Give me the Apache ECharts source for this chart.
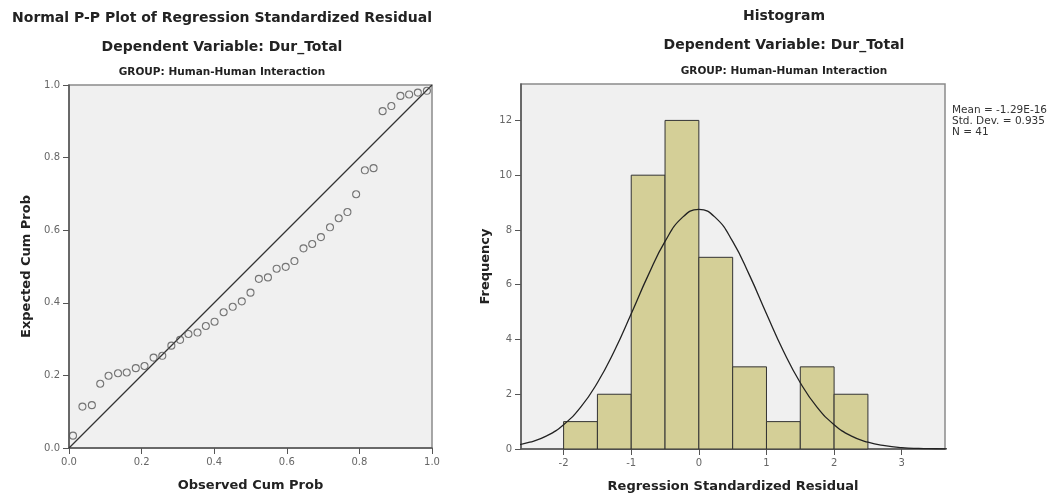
<!DOCTYPE html>
<html>
<head>
<meta charset="utf-8">
<script src="https://cdn.jsdelivr.net/npm/echarts@6/dist/echarts.min.js"></script>
<style>
  html, body { margin: 0; padding: 0; background: #ffffff; }
  #main { width: 1056px; height: 498px; }
</style>
</head>
<body>
<div id="main"></div>
<script>
// P-P plot: observed vs expected cumulative probability
var ppObs = [0.011, 0.037, 0.063, 0.086, 0.109, 0.135, 0.159, 0.184, 0.208, 0.233, 0.257,
  0.282, 0.306, 0.329, 0.354, 0.377, 0.401, 0.426, 0.451, 0.476, 0.500, 0.523, 0.548,
  0.572, 0.597, 0.621, 0.646, 0.670, 0.694, 0.719, 0.743, 0.767, 0.791, 0.815, 0.839,
  0.864, 0.888, 0.913, 0.937, 0.961, 0.986]
var ppExp = [0.034, 0.114, 0.118, 0.177, 0.199, 0.206, 0.208, 0.220, 0.226, 0.249, 0.254,
  0.282, 0.298, 0.314, 0.318, 0.336, 0.348, 0.374, 0.389, 0.404, 0.428, 0.466, 0.470,
  0.494, 0.499, 0.515, 0.550, 0.562, 0.581, 0.608, 0.633, 0.650, 0.699, 0.765, 0.771,
  0.928, 0.942, 0.970, 0.974, 0.979, 0.984]
var diagLine = [[0, 0], [1, 1]]

// histogram bins (width 0.5) and counts
var binStart = [-2, -1.5, -1, -0.5, 0, 0.5, 1, 1.5, 2]
var binEnd = [-1.5, -1, -0.5, 0, 0.5, 1, 1.5, 2, 2.5]
var binCount = [1, 2, 10, 12, 7, 3, 1, 3, 2]
var histXTicks = [-2, -1, 0, 1, 2, 3]
var histYTicks = [0, 2, 4, 6, 8, 10, 12]

// normal curve
var curveX = [-2.75, -2.5, -2.25, -2, -1.75, -1.5, -1.25, -1, -0.75, -0.5, -0.25, 0,
  0.25, 0.5, 0.75, 1, 1.25, 1.5, 1.75, 2, 2.25, 2.5, 2.75, 3, 3.25, 3.5, 3.75]
var curveY = [0.12, 0.25, 0.48, 0.89, 1.52, 2.42, 3.58, 4.94, 6.34, 7.58, 8.44, 8.75,
  8.44, 7.58, 6.34, 4.94, 3.58, 2.42, 1.52, 0.89, 0.48, 0.25, 0.12, 0.05, 0.02, 0.01, 0.0]

var statsLines = ['Mean = -1.29E-16', 'Std. Dev. = 0.935', 'N = 41']

var FONT = 'DejaVu Sans'
var axisColor = '#555555'

var ppData = ppObs.map(function (v, i) { return [v, ppExp[i]] })
var histData = binStart.map(function (v, i) { return [v, binEnd[i], binCount[i]] })
var curveData = curveX.map(function (v, i) { return [v, curveY[i]] })

function titleText(x, y, text, size) {
  return {
    type: 'text', x: x, y: y,
    style: { text: text, fill: '#222', font: 'bold ' + size + 'px "' + FONT + '"', align: 'center', verticalAlign: 'middle' }
  }
}

var baseAxis = {
  axisLine: { show: true, onZero: false, lineStyle: { color: axisColor, width: 1.5 } },
  axisTick: { show: true, length: 6, lineStyle: { color: axisColor } },
  axisLabel: { color: '#666', fontSize: 10, fontFamily: FONT, margin: 9 },
  splitLine: { show: false },
  nameLocation: 'middle',
  nameTextStyle: { color: '#222', fontSize: 13, fontWeight: 'bold', fontFamily: FONT }
}

var option = {
  animation: false,
  backgroundColor: '#ffffff',
  grid: [
    { left: 69, top: 85, width: 363, height: 363, show: true, backgroundColor: '#f0f0f0', borderColor: '#8a8a8a', borderWidth: 1.5 },
    { left: 521, top: 84, width: 424, height: 367, show: true, backgroundColor: '#f0f0f0', borderColor: '#8a8a8a', borderWidth: 1.5 }
  ],
  xAxis: [
    Object.assign({}, baseAxis, {
      gridIndex: 0, type: 'value', min: 0, max: 1, interval: 0.2,
      name: 'Observed Cum Prob', nameGap: 31,
      axisLabel: Object.assign({}, baseAxis.axisLabel, { formatter: function (v) { return v.toFixed(1) } })
    }),
    Object.assign({}, baseAxis, {
      gridIndex: 1, type: 'value', min: -2.63, max: 3.64,
      name: 'Regression Standardized Residual', nameGap: 31,
      axisTick: Object.assign({}, baseAxis.axisTick, { customValues: histXTicks }),
      axisLabel: Object.assign({}, baseAxis.axisLabel, { customValues: histXTicks })
    })
  ],
  yAxis: [
    Object.assign({}, baseAxis, {
      gridIndex: 0, type: 'value', min: 0, max: 1, interval: 0.2,
      name: 'Expected Cum Prob', nameGap: 36,
      axisLabel: Object.assign({}, baseAxis.axisLabel, { formatter: function (v) { return v.toFixed(1) } })
    }),
    Object.assign({}, baseAxis, {
      gridIndex: 1, type: 'value', min: 0, max: 13.33,
      name: 'Frequency', nameGap: 29,
      axisTick: Object.assign({}, baseAxis.axisTick, { customValues: histYTicks }),
      axisLabel: Object.assign({}, baseAxis.axisLabel, { customValues: histYTicks })
    })
  ],
  graphic: [
    titleText(222, 18, 'Normal P-P Plot of Regression Standardized Residual', 14),
    titleText(222, 47, 'Dependent Variable: Dur_Total', 14),
    titleText(222, 72, 'GROUP: Human-Human Interaction', 10.5),
    titleText(784, 16, 'Histogram', 14),
    titleText(784, 45, 'Dependent Variable: Dur_Total', 14),
    titleText(784, 71, 'GROUP: Human-Human Interaction', 10.5),
    {
      type: 'text', x: 952, y: 105,
      style: { text: statsLines.join('\n'), fill: '#333', font: '10.5px "' + FONT + '"', lineHeight: 11 }
    }
  ],
  series: [
    {
      type: 'line', xAxisIndex: 0, yAxisIndex: 0, data: diagLine,
      showSymbol: false, lineStyle: { color: '#333', width: 1.3 }, z: 2
    },
    {
      type: 'scatter', xAxisIndex: 0, yAxisIndex: 0, data: ppData,
      symbol: 'circle', symbolSize: 7,
      itemStyle: { color: 'rgba(0,0,0,0)', borderColor: '#555', borderWidth: 1.1 }, z: 3
    },
    {
      type: 'custom', xAxisIndex: 1, yAxisIndex: 1, data: histData,
      encode: { x: [0, 1], y: 2 },
      renderItem: function (params, api) {
        var p0 = api.coord([api.value(0), api.value(2)])
        var p1 = api.coord([api.value(1), 0])
        return {
          type: 'rect',
          shape: { x: p0[0], y: p0[1], width: p1[0] - p0[0], height: p1[1] - p0[1] },
          style: { fill: '#d4cf97', stroke: '#333', lineWidth: 1 }
        }
      }
    },
    {
      type: 'line', xAxisIndex: 1, yAxisIndex: 1, data: curveData,
      smooth: true, showSymbol: false, clip: true,
      lineStyle: { color: '#222', width: 1.3 }, z: 4
    }
  ]
}

var myChart = echarts.init(document.getElementById('main'))
myChart.setOption(option)
</script>
</body>
</html>
